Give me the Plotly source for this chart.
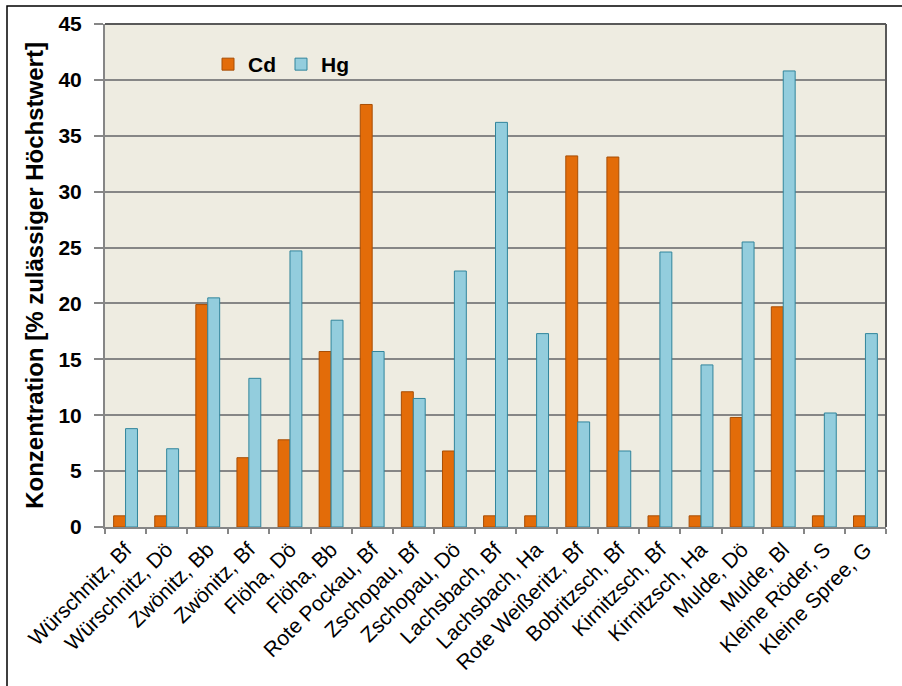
import plotly.graph_objects as go

categories = ["Würschnitz, Bf", "Würschnitz, Dö", "Zwönitz, Bb", "Zwönitz, Bf", "Flöha, Dö",
              "Flöha, Bb", "Rote Pockau, Bf", "Zschopau, Bf", "Zschopau, Dö", "Lachsbach, Bf",
              "Lachsbach, Ha", "Rote Weißeritz, Bf", "Bobritzsch, Bf", "Kirnitzsch, Bf",
              "Kirnitzsch, Ha", "Mulde, Dö", "Mulde, Bl", "Kleine Röder, S", "Kleine Spree, G"]
cd_values = [1, 1, 19.9, 6.2, 7.8, 15.7, 37.8, 12.1, 6.8, 1, 1, 33.2, 33.1, 1, 1, 9.8, 19.7, 1, 1]
hg_values = [8.8, 7.0, 20.5, 13.3, 24.7, 18.5, 15.7, 11.5, 22.9, 36.2, 17.3, 9.4, 6.8, 24.6, 14.5,
             25.5, 40.8, 10.2, 17.3]
y_ticks = [0, 5, 10, 15, 20, 25, 30, 35, 40, 45]

FONT = "Liberation Sans, Arial, sans-serif"

fig = go.Figure()
fig.add_trace(go.Bar(name="Cd", x=categories, y=cd_values,
                     marker=dict(color="#E36C09", line=dict(color="#A84E05", width=1))))
fig.add_trace(go.Bar(name="Hg", x=categories, y=hg_values,
                     marker=dict(color="#93CDDD", line=dict(color="#31859C", width=1))))

L, R, T, B = 105, 16, 24, 159
W, H = 902, 686
pw, ph = W - L - R, H - T - B

def px(x):
    return (x - L) / pw

def py(y):
    return (H - B - y) / ph

fig.update_layout(
    width=W, height=H,
    margin=dict(l=L, r=R, t=T, b=B),
    paper_bgcolor="white",
    plot_bgcolor="#EEECE1",
    barmode="group",
    bargap=0.42,
    bargroupgap=0,
    font=dict(family=FONT, color="black"),
    showlegend=True,
    legend=dict(orientation="h", x=px(208), y=py(44), xanchor="left", yanchor="top",
                bgcolor="rgba(0,0,0,0)", font=dict(size=21, family=FONT, weight="bold"),
                itemwidth=30, traceorder="normal"),
    xaxis=dict(
        tickangle=-45,
        tickfont=dict(size=21, family=FONT),
        ticks="outside", tickson="boundaries", ticklen=5, tickcolor="#868686", tickwidth=2,
        showline=True, linecolor="#868686", linewidth=2, mirror=False,
        showgrid=False,
        automargin=False,
    ),
    yaxis=dict(
        range=[0, 45],
        tickvals=y_ticks,
        ticktext=[f"<b>{v}</b>" for v in y_ticks],
        tickfont=dict(size=21, family=FONT, weight="bold"),
        ticks="outside", ticklen=9, tickcolor="#868686", tickwidth=2,
        ticklabelstandoff=8,
        showline=True, linecolor="#868686", linewidth=2,
        showgrid=True, gridcolor="#868686", gridwidth=2,
        zeroline=False,
        automargin=False,
        title=dict(text="<b>Konzentration [% zulässiger Höchstwert]</b>",
                   font=dict(size=24, family=FONT, weight="bold"), standoff=8),
    ),
    shapes=[
        dict(type="line", xref="paper", yref="paper", x0=0, x1=1, y0=1, y1=1,
             line=dict(color="#595959", width=2)),
        dict(type="line", xref="paper", yref="paper", x0=1, x1=1, y0=0, y1=1,
             line=dict(color="#595959", width=2)),
        dict(type="rect", xref="paper", yref="paper",
             x0=px(7), x1=px(906), y0=py(692), y1=py(6),
             line=dict(color="black", width=1.5), fillcolor="rgba(0,0,0,0)", layer="below"),
    ],
)

fig.write_html("out.html")
